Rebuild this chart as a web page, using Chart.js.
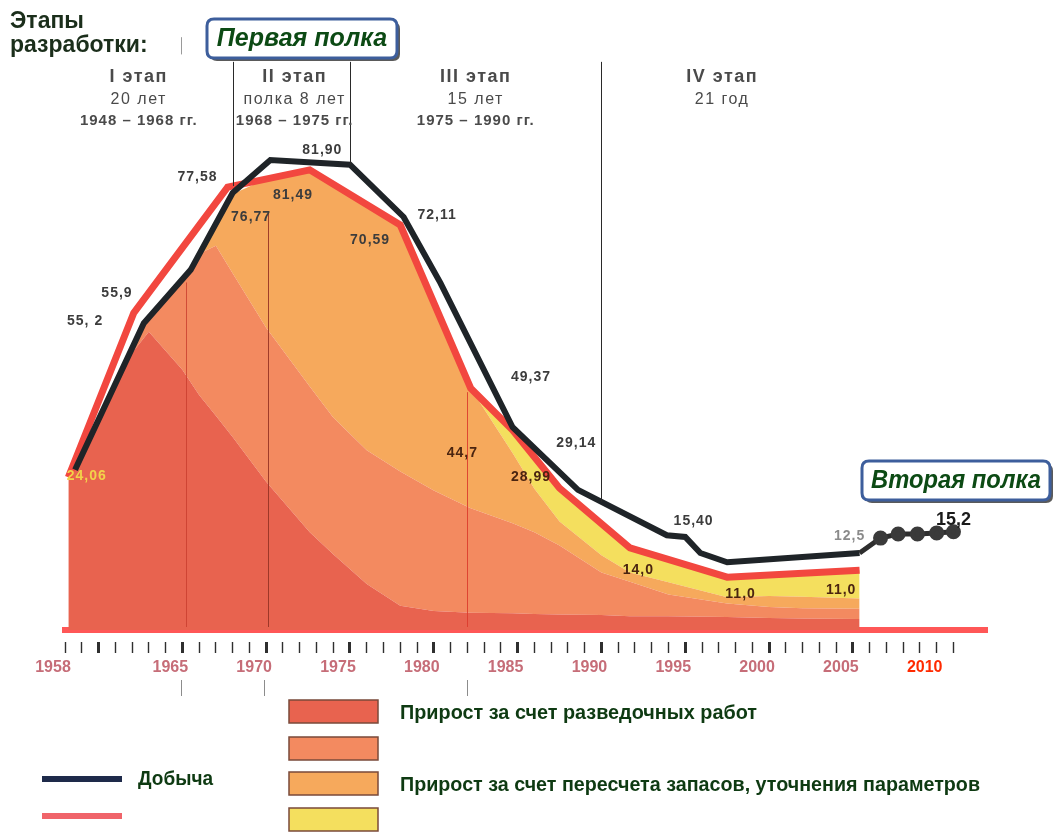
<!DOCTYPE html>
<html>
<head>
<meta charset="utf-8">
<script src="https://cdn.jsdelivr.net/npm/chart.js@4.4.1/dist/chart.umd.min.js"></script>
<style>
  html, body { margin: 0; padding: 0; background: #fff; }
  #wrap { width: 1053px; height: 834px; position: relative; }
</style>
</head>
<body>
<div id="wrap"><canvas id="graphContainer"></canvas></div>
<script>

// years of the filled layers (stacked thickness of each layer)
var years = [1958.2, 1960, 1962, 1963, 1965, 1966, 1967, 1968, 1970, 1972.6, 1974, 1976, 1978, 1980, 1982.2, 1984.7, 1986, 1987.5, 1990, 1991.7, 1994, 1997.5, 2000, 2002, 2005.4];

var growthExploration = [26.6, 36.1, 48.2, 51.9, 45.3, 40.9, 37.3, 33.6, 25.8, 17.0, 13.2, 8.0, 4.2, 3.3, 3.0, 2.9, 2.8, 2.7, 2.6, 2.4, 2.4, 2.25, 2.1, 2.0, 1.9];
var growthSecond = [0, 0.5, 1.0, 2.6, 15.8, 24.6, 29.6, 28.5, 26.8, 25.4, 23.8, 23.3, 23.4, 21.0, 18.2, 15.7, 14.2, 12.0, 7.4, 6.0, 3.8, 2.35, 1.9, 1.8, 1.8];
var growthRecount = [0, 0, 0, 0, 0, 0, 3.8, 13.8, 25.9, 37.7, 40.6, 42.8, 42.9, 32.6, 20.9, 12.2, 7.6, 4.2, 3.0, 1.6, 2.1, 1.1, 1.9, 2.0, 1.8];
var growthFourth = [0, 0, 0, 0, 0, 0, 0, 0, 0, 0, 0, 0, 0, 0, 0, 4.0, 5.5, 5.8, 5.5, 4.3, 4.0, 3.5, 3.7, 4.1, 4.9];

// red envelope line
var redYears = [1958.2, 1962.1, 1967.7, 1972.6, 1978, 1982.2, 1984.7, 1987.5, 1991.7, 1997.5, 2005.4];
var redValues = [26.6, 55.2, 77.1, 80.1, 70.5, 42.1, 34.8, 24.7, 14.3, 9.2, 10.4];

// Добыча
var productionYears = [1958.6, 1962.7, 1965.5, 1968, 1970.25, 1975, 1978.2, 1980.4, 1984.7, 1988.6, 1993.9, 1995, 1995.9, 1997.5, 2005.4];
var productionValues = [27.9, 53.4, 62.7, 76.1, 81.8, 81.0, 71.9, 60.4, 35.3, 24.4, 16.5, 16.2, 13.4, 11.8, 13.4];

// Вторая полка
var shelfYears = [2005.4, 2006.65, 2007.7, 2008.85, 2010, 2011];
var shelfValues = [13.4, 16.0, 16.7, 16.7, 16.9, 17.1];

var tickLabelYears = [1958, 1965, 1970, 1975, 1980, 1985, 1990, 1995, 2000, 2005, 2010];

// value labels written on the chart
var labelTexts = ['81,90', '77,58', '81,49', '76,77', '72,11', '70,59', '55,9', '55, 2', '24,06', '49,37', '29,14', '44,7', '28,99', '15,40', '14,0', '11,0', '11,0', '12,5', '15,2'];
var labelYears = [1973.35, 1965.9, 1971.6, 1969.1, 1980.2, 1976.2, 1961.1, 1959.2, 1959.3, 1985.8, 1988.5, 1981.7, 1985.8, 1995.5, 1992.2, 1998.3, 2004.3, 2004.8, 2011.0];
var labelValues = [83.6, 78.9, 75.7, 71.9, 72.2, 67.9, 58.7, 53.8, 26.8, 44.0, 32.6, 30.8, 26.6, 19.0, 10.4, 6.3, 7.0, 16.4, 19.2];

// stages
var stageNames = ['I этап', 'II этап', 'III этап', 'IV этап'];
var stageDurations = ['20 лет', 'полка 8 лет', '15 лет', '21 год'];
var stagePeriods = ['1948 – 1968 гг.', '1968 – 1975 гг.', '1975 – 1990 гг.', ''];
var stageCenters = [1962.4, 1971.7, 1982.5, 1997.2];
var stageBounds = [1968, 1975, 1990];
var stageBoundEnds = [77.3, 81.0, 22.3];

var innerLineYears = [1965.2, 1970.1, 1982];
var innerLineTops = [60.5, 72.8, 41.4];
var markYears = [1964.9, 1969.9, 1982];

var legendFillLabels = ['Прирост за счет разведочных работ', '', 'Прирост за счет пересчета запасов, уточнения параметров', ''];
var legendLineLabels = ['Добыча', ''];

var FONT = '"Liberation Sans", Arial, sans-serif';

function pts(xs, ys) {
    return xs.map(function (x, i) { return { x: x, y: ys[i] }; });
}

var axisYears = [];
for (var yr = 1958; yr <= 2011; yr++) {
    axisYears.push(yr);
}

function roundRectPath(ctx, x, y, w, h, r) {
    ctx.beginPath();
    ctx.moveTo(x + r, y);
    ctx.lineTo(x + w - r, y);
    ctx.quadraticCurveTo(x + w, y, x + w, y + r);
    ctx.lineTo(x + w, y + h - r);
    ctx.quadraticCurveTo(x + w, y + h, x + w - r, y + h);
    ctx.lineTo(x + r, y + h);
    ctx.quadraticCurveTo(x, y + h, x, y + h - r);
    ctx.lineTo(x, y + r);
    ctx.quadraticCurveTo(x, y, x + r, y);
    ctx.closePath();
}

function drawShelfBox(ctx, text, x, y, w, h) {
    ctx.save();
    roundRectPath(ctx, x + 3, y + 3, w, h, 7);
    ctx.fillStyle = '#5a5a5a';
    ctx.fill();
    roundRectPath(ctx, x, y, w, h, 7);
    ctx.fillStyle = '#ffffff';
    ctx.fill();
    ctx.lineWidth = 3;
    ctx.strokeStyle = '#3d5e9c';
    ctx.stroke();
    ctx.font = 'italic bold 25px ' + FONT;
    ctx.fillStyle = '#0c4a14';
    ctx.textAlign = 'center';
    ctx.textBaseline = 'middle';
    ctx.fillText(text, x + w / 2, y + h / 2 + 1, w - 18);
    ctx.restore();
}

var overlayPlugin = {
    id: 'overlay',
    afterDatasetsDraw: function (chart) {
        var ctx = chart.ctx;
        var xs = chart.scales.x;
        var ys = chart.scales.y;
        var i, x;
        ctx.save();

        // thin lines inside the filled area + short marks under the axis
        var innerColors = ['rgba(200,60,45,0.8)', 'rgba(150,50,35,0.9)', 'rgba(220,60,45,0.9)'];
        for (i = 0; i < innerLineYears.length; i++) {
            x = Math.round(xs.getPixelForValue(innerLineYears[i])) + 0.5;
            ctx.strokeStyle = innerColors[i];
            ctx.lineWidth = 1;
            ctx.beginPath();
            ctx.moveTo(x, ys.getPixelForValue(innerLineTops[i]));
            ctx.lineTo(x, ys.getPixelForValue(0) - 3);
            ctx.stroke();
            x = Math.round(xs.getPixelForValue(markYears[i])) + 0.5;
            ctx.strokeStyle = '#8c8c8c';
            ctx.beginPath();
            ctx.moveTo(x, chart.chartArea.bottom + 50);
            ctx.lineTo(x, chart.chartArea.bottom + 66);
            ctx.stroke();
        }

        // stage dividers
        ctx.strokeStyle = '#2a2a2a';
        ctx.lineWidth = 1;
        for (i = 0; i < stageBounds.length; i++) {
            x = Math.round(xs.getPixelForValue(stageBounds[i])) + 0.5;
            ctx.beginPath();
            ctx.moveTo(x, ys.getPixelForValue(98.9));
            ctx.lineTo(x, ys.getPixelForValue(stageBoundEnds[i]));
            ctx.stroke();
        }
        x = Math.round(xs.getPixelForValue(1964.9)) + 0.5;
        ctx.strokeStyle = '#9a9a9a';
        ctx.beginPath();
        ctx.moveTo(x, ys.getPixelForValue(103.2));
        ctx.lineTo(x, ys.getPixelForValue(100.2));
        ctx.stroke();

        // stage headers
        ctx.textAlign = 'center';
        ctx.textBaseline = 'middle';
        ctx.fillStyle = '#4a4a4a';
        for (i = 0; i < stageNames.length; i++) {
            x = xs.getPixelForValue(stageCenters[i]);
            ctx.letterSpacing = '1.5px';
            ctx.font = 'bold 18px ' + FONT;
            ctx.fillText(stageNames[i], x, 77);
            ctx.font = '16px ' + FONT;
            ctx.fillText(stageDurations[i], x, 100);
            ctx.letterSpacing = '1px';
            ctx.font = 'bold 15px ' + FONT;
            ctx.fillText(stagePeriods[i], x, 121);
        }

        // value labels
        ctx.letterSpacing = '1px';
        for (i = 0; i < labelTexts.length; i++) {
            var col = '#3c3c3c';
            var f = 'bold 14px ' + FONT;
            if (labelTexts[i] === '24,06') col = '#f2d24a';
            if (['44,7', '28,99', '14,0', '11,0'].indexOf(labelTexts[i]) >= 0) col = '#4a2410';
            if (labelTexts[i] === '12,5') col = '#8a8a8a';
            if (labelTexts[i] === '15,2') { col = '#1a1a1a'; f = 'bold 18px ' + FONT; ctx.letterSpacing = '0px'; }
            ctx.font = f;
            ctx.fillStyle = col;
            ctx.fillText(labelTexts[i], xs.getPixelForValue(labelYears[i]), ys.getPixelForValue(labelValues[i]));
        }
        ctx.restore();
    },
    afterDraw: function (chart) {
        var ctx = chart.ctx;
        var ds = chart.data.datasets;
        var i;
        ctx.save();

        // title
        ctx.font = 'bold 23px ' + FONT;
        ctx.fillStyle = '#1b2e1b';
        ctx.textAlign = 'left';
        ctx.textBaseline = 'alphabetic';
        ctx.fillText('Этапы', 10, 28);
        ctx.fillText('разработки:', 10, 52);

        drawShelfBox(ctx, 'Первая полка', 207, 19, 190, 39);
        drawShelfBox(ctx, 'Вторая полка', 862, 461, 188, 39);

        // legend for the filled layers
        var boxTops = [700, 737, 772, 808];
        ctx.textBaseline = 'middle';
        for (i = 0; i < 4; i++) {
            ctx.fillStyle = ds[i].backgroundColor;
            ctx.fillRect(289, boxTops[i], 89, 23);
            ctx.lineWidth = 1.5;
            ctx.strokeStyle = '#7a4a3a';
            ctx.strokeRect(289, boxTops[i], 89, 23);
            if (legendFillLabels[i]) {
                ctx.font = 'bold 20px ' + FONT;
                ctx.fillStyle = '#0e3a12';
                ctx.fillText(legendFillLabels[i], 400, boxTops[i] + 13, i === 0 ? 357 : 580);
            }
        }

        // legend for the lines
        var lineRows = [779, 816];
        var lineColors = ['#1e2a4a', '#f0646a'];
        for (i = 0; i < 2; i++) {
            ctx.strokeStyle = lineColors[i];
            ctx.lineWidth = 6;
            ctx.beginPath();
            ctx.moveTo(42, lineRows[i]);
            ctx.lineTo(122, lineRows[i]);
            ctx.stroke();
            if (legendLineLabels[i]) {
                ctx.font = 'bold 20px ' + FONT;
                ctx.fillStyle = '#0e3a12';
                ctx.fillText(legendLineLabels[i], 138, lineRows[i], 75);
            }
        }
        ctx.restore();
    }
};

var ctx = document.getElementById('graphContainer');

var chart = new Chart(ctx.getContext('2d'), {
    type: 'line',
    data: {
        datasets: [{
            label: legendFillLabels[0],
            data: pts(years, growthExploration),
            backgroundColor: '#e8634f',
            borderWidth: 0,
            pointRadius: 0,
            fill: 'origin',
            stack: 'growth',
            order: 3
        }, {
            label: legendFillLabels[1],
            data: pts(years, growthSecond),
            backgroundColor: '#f38a60',
            borderWidth: 0,
            pointRadius: 0,
            fill: '-1',
            stack: 'growth',
            order: 3
        }, {
            label: legendFillLabels[2],
            data: pts(years, growthRecount),
            backgroundColor: '#f6a95c',
            borderWidth: 0,
            pointRadius: 0,
            fill: '-1',
            stack: 'growth',
            order: 3
        }, {
            label: legendFillLabels[3],
            data: pts(years, growthFourth),
            backgroundColor: '#f4df5e',
            borderWidth: 0,
            pointRadius: 0,
            fill: '-1',
            stack: 'growth',
            order: 3
        }, {
            label: legendLineLabels[1],
            data: pts(redYears, redValues),
            borderColor: '#f2473f',
            borderWidth: 7,
            pointRadius: 0,
            fill: false,
            stack: 'red',
            order: 2
        }, {
            label: legendLineLabels[0],
            data: pts(productionYears, productionValues),
            borderColor: '#1f2428',
            borderWidth: 6,
            pointRadius: 0,
            fill: false,
            stack: 'production',
            order: 1
        }, {
            label: 'Вторая полка',
            data: pts(shelfYears, shelfValues),
            borderColor: '#2e2e2e',
            borderWidth: 5,
            pointRadius: [0, 5, 5, 5, 5, 5],
            pointBackgroundColor: '#3a3a3a',
            pointBorderColor: '#3a3a3a',
            fill: false,
            stack: 'shelf',
            order: 0
        }]
    },
    options: {
        responsive: true,
        maintainAspectRatio: false,
        animation: false,
        layout: { padding: { left: 65, right: 66, top: 113, bottom: 0 } },
        plugins: {
            legend: { display: false },
            tooltip: { enabled: false }
        },
        elements: { line: { tension: 0 } },
        scales: {
            x: {
                type: 'linear',
                min: 1958,
                max: 2013,
                afterBuildTicks: function (scale) {
                    scale.ticks = axisYears.map(function (v) { return { value: v }; });
                },
                afterFit: function (scale) {
                    scale.height = 204;
                },
                border: { display: true, color: '#ff5757', width: 6 },
                grid: {
                    drawOnChartArea: false,
                    drawTicks: true,
                    tickLength: 23,
                    tickColor: '#2f2f2f',
                    tickWidth: function (c) {
                        return (c.tick && c.tick.value % 5 === 0 && c.tick.value <= 2005) ? 3 : 1.4;
                    },
                    tickBorderDash: [0, 9, 11, 60]
                },
                ticks: {
                    autoSkip: false,
                    maxRotation: 0,
                    padding: 5,
                    labelOffset: -12,
                    font: { family: FONT, size: 16, weight: 'bold' },
                    color: function (c) {
                        return (c.tick && c.tick.value === 2010) ? '#ff2a00' : '#c66d78';
                    },
                    callback: function (value) {
                        return tickLabelYears.indexOf(value) >= 0 ? String(value) : '';
                    }
                }
            },
            y: {
                display: false,
                stacked: true,
                min: 0,
                max: 90
            }
        }
    },
    plugins: [overlayPlugin]
});
</script>
</body>
</html>
